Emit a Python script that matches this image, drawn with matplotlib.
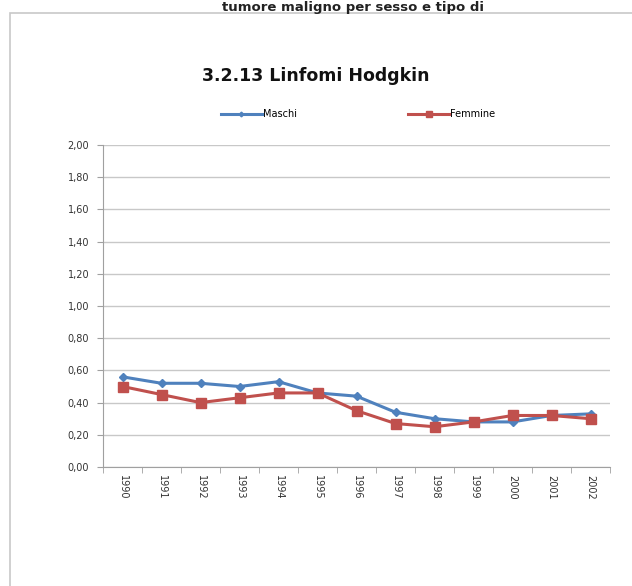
import matplotlib
matplotlib.use("Agg")
import matplotlib.pyplot as plt
from matplotlib.patches import Rectangle

years = ["1990", "1991", "1992", "1993", "1994", "1995", "1996",
         "1997", "1998", "1999", "2000", "2001", "2002"]
maschi = [0.56, 0.52, 0.52, 0.50, 0.53, 0.46, 0.44, 0.34, 0.30, 0.28, 0.28, 0.32, 0.33]
femmine = [0.50, 0.45, 0.40, 0.43, 0.46, 0.46, 0.35, 0.27, 0.25, 0.28, 0.32, 0.32, 0.30]
yticks = [0.0, 0.2, 0.4, 0.6, 0.8, 1.0, 1.2, 1.4, 1.6, 1.8, 2.0]
ytick_labels = ["0,00", "0,20", "0,40", "0,60", "0,80", "1,00", "1,20",
                "1,40", "1,60", "1,80", "2,00"]

W, H = 632, 586
fig = plt.figure(figsize=(W / 100, H / 100), dpi=100)
fig.patch.set_facecolor("white")

# outer frame (cropped)
fig.patches.append(Rectangle((10 / W, -0.1), 1.1, 1 - 13 / H + 0.1,
                             transform=fig.transFigure, fill=False,
                             edgecolor="#c8c8c8", linewidth=1.2))
# page header
fig.text(222 / W, 1 - 0.5 / H, "tumore maligno per sesso e tipo di",
         fontsize=9.5, fontweight="bold", color="#222222", va="top", ha="left")

ax = fig.add_axes([103 / W, 1 - 467 / H, (610 - 103) / W, (467 - 145) / H])
x = list(range(len(years)))
blue = "#4F81BD"
red = "#C0504D"
ax.plot(x, maschi, color=blue, lw=2.2, marker="D", ms=4, label="Maschi", zorder=3)
ax.plot(x, femmine, color=red, lw=2.2, marker="s", ms=6.5, label="Femmine", zorder=3)

ax.set_xlim(-0.5, len(years) - 0.5)
ax.set_ylim(0, 2.0)
ax.set_yticks(yticks)
ax.set_yticklabels(ytick_labels, fontsize=7, color="#333333")
ax.set_xticks(x)
ax.set_xticklabels(years, rotation=270, fontsize=7, color="#333333")
ax.tick_params(axis="x", length=0, pad=6)
ax.set_xticks([i - 0.5 for i in range(len(years) + 1)], minor=True)
ax.tick_params(axis="x", which="minor", length=4, color="#a0a0a0", direction="out")
ax.tick_params(axis="y", length=4, color="#a0a0a0", direction="out", pad=6)

ax.grid(axis="y", color="#c8c8c8", lw=1)
ax.set_axisbelow(True)
for s in ["top", "right"]:
    ax.spines[s].set_visible(False)
ax.spines["left"].set_color("#a0a0a0")
ax.spines["bottom"].set_color("#a0a0a0")

fig.text(316 / W, 1 - 76 / H, "3.2.13 Linfomi Hodgkin", fontsize=12.5,
         fontweight="bold", ha="center", va="center", color="#111111")

ax.legend(loc="center", bbox_to_anchor=(358 / W, 1 - 114 / H),
          bbox_transform=fig.transFigure, ncol=2, frameon=False, fontsize=7,
          columnspacing=11.5, handlelength=4.2, handletextpad=0.1,
          markerscale=0.6)

fig.savefig("out.png", dpi=100, facecolor="white")
